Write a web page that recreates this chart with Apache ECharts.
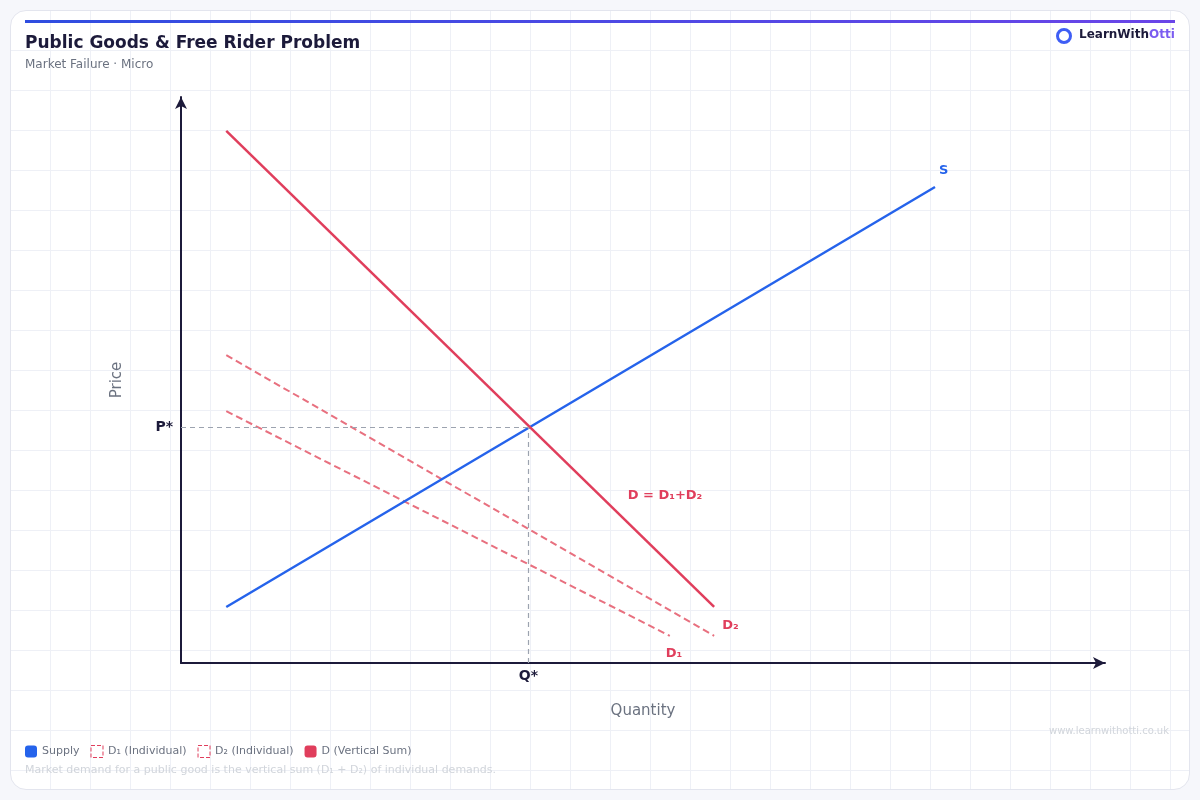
<!DOCTYPE html>
<html>
<head>
<meta charset="utf-8">
<script src="https://cdn.jsdelivr.net/npm/echarts@6/dist/echarts.min.js"></script>
<style>
  html, body { margin: 0; padding: 0; background: #f6f7fb; }
  #card {
    position: absolute; left: 10px; top: 10px; width: 1178px; height: 778px;
    border: 1px solid #e3e5ee; border-radius: 16px; background-color: #fff;
    background-image:
      linear-gradient(#eef0f6 1px, transparent 1px),
      linear-gradient(90deg, #eef0f6 1px, transparent 1px);
    background-size: 40px 40px; background-position: 39px 39px;
    overflow: hidden;
  }
  #chart { position: absolute; left: 0; top: 0; width: 1200px; height: 800px; }
</style>
</head>
<body>
<div id="card"></div>
<div id="chart"></div>
<script>
// economic units: quantity 0..10, price 0..10
const supply = [[0.49, 0.99], [8.16, 8.41]];
const demandSum = [[0.49, 9.40], [5.77, 0.99]];
const demand2 = [[0.49, 5.44], [5.77, 0.48]];
const demand1 = [[0.49, 4.45], [5.29, 0.48]];
const equilibrium = [3.76, 4.17];
const sumLabelAt = [4.78, 2.95];
const legendNames = ["Supply", "D\u2081 (Individual)", "D\u2082 (Individual)", "D (Vertical Sum)"];

const blue = "#2563eb", red = "#e03e5c", redLight = "#e8707f", ink = "#1c1a3a";
const font = "DejaVu Sans";

const chart = echarts.init(document.getElementById("chart"));
chart.setOption({
  animation: false,
  textStyle: { fontFamily: font },
  graphic: [
    { type: "rect", shape: { x: 25, y: 20, width: 1150, height: 3 },
      style: { fill: new echarts.graphic.LinearGradient(0, 0, 1, 0, [
        { offset: 0, color: "#2f4de0" }, { offset: 1, color: "#6a45e8" }]) } },
    { type: "text", left: 25, top: 35, style: { text: "Public Goods & Free Rider Problem",
      font: "bold 17px DejaVu Sans", fill: ink } },
    { type: "text", left: 25, top: 59, style: { text: "Market Failure \u00b7 Micro",
      font: "12px DejaVu Sans", fill: "#6b7280" } },
    { type: "circle", shape: { cx: 1064, cy: 36, r: 6.5 }, style: { fill: "#fff", stroke: "#3f5ef5", lineWidth: 3 } },
    { type: "text", left: 1079, top: 29, style: { rich: {
      a: { font: "bold 12px DejaVu Sans", fill: ink },
      b: { font: "bold 12px DejaVu Sans", fill: "#7b5cf0" } }, text: "{a|LearnWith}{b|Otti}" } },
    { type: "text", right: 31, top: 726, style: { text: "www.learnwithotti.co.uk",
      font: "10px DejaVu Sans", fill: "#d1d5db" } },
    { type: "text", left: 25, top: 765, style: {
      text: "Market demand for a public good is the vertical sum (D\u2081 + D\u2082) of individual demands.",
      font: "11px DejaVu Sans", fill: "#d1d5db" } }
  ],
  legend: {
    left: 20, top: 740, itemWidth: 12, itemHeight: 12, itemGap: 11,
    textStyle: { color: "#6b7280", fontSize: 11 },
    data: [
      { name: legendNames[0], icon: "roundRect", itemStyle: { color: blue } },
      { name: legendNames[1], icon: "rect", itemStyle: { color: "transparent", borderColor: red, borderType: "dashed", borderWidth: 1 } },
      { name: legendNames[2], icon: "rect", itemStyle: { color: "transparent", borderColor: red, borderType: "dashed", borderWidth: 1 } },
      { name: legendNames[3], icon: "roundRect", itemStyle: { color: red } }
    ]
  },
  grid: { left: 181, right: 95, top: 97, bottom: 137 },
  xAxis: {
    type: "value", min: 0, max: 10,
    name: "Quantity", nameLocation: "middle", nameGap: 41,
    nameTextStyle: { color: "#6b7280", fontSize: 15 },
    axisLine: { lineStyle: { color: ink, width: 2 }, symbol: ["none", "arrow"], symbolSize: [9, 12] },
    axisTick: { show: false }, axisLabel: { show: false }, splitLine: { show: false }
  },
  yAxis: {
    type: "value", min: 0, max: 10,
    name: "Price", nameLocation: "middle", nameGap: 56,
    nameTextStyle: { color: "#6b7280", fontSize: 15 },
    axisLine: { lineStyle: { color: ink, width: 2 }, symbol: ["none", "arrow"], symbolSize: [9, 12] },
    axisTick: { show: false }, axisLabel: { show: false }, splitLine: { show: false }
  },
  series: [
    { name: legendNames[1], type: "line", data: demand1, symbol: "none",
      lineStyle: { color: redLight, width: 2, type: [7, 4] }, itemStyle: { color: red },
      endLabel: { show: true, formatter: "D\u2081", color: red, fontWeight: "bold", fontSize: 13, offset: [-12, 18] } },
    { name: legendNames[2], type: "line", data: demand2, symbol: "none",
      lineStyle: { color: redLight, width: 2, type: [7, 4] }, itemStyle: { color: red },
      endLabel: { show: true, formatter: "D\u2082", color: red, fontWeight: "bold", fontSize: 13, offset: [0, -10] } },
    { name: legendNames[0], type: "line", data: supply, symbol: "none",
      lineStyle: { color: blue, width: 2.5 }, itemStyle: { color: blue },
      endLabel: { show: true, formatter: "S", color: blue, fontWeight: "bold", fontSize: 13, offset: [-4, -16] },
      markLine: {
        silent: true, symbol: "none",
        lineStyle: { color: "#9ca3af", type: [5, 4], width: 1.2 },
        label: { color: ink, fontWeight: "bold", fontSize: 14 },
        data: [
          [{ coord: [0, equilibrium[1]], label: { formatter: "P*", position: "start", distance: 8 } },
           { coord: equilibrium }],
          [{ coord: [equilibrium[0], 0], label: { formatter: "Q*", position: "start", distance: 6 } },
           { coord: equilibrium }]
        ]
      } },
    { name: legendNames[3], type: "line", data: demandSum, symbol: "none",
      lineStyle: { color: red, width: 2.5 }, itemStyle: { color: red },
      markPoint: { symbol: "circle", symbolSize: 0,
        label: { show: true, formatter: "D = D\u2081+D\u2082", color: red, fontWeight: "bold", fontSize: 13, position: "right" },
        data: [{ coord: sumLabelAt }] } }
  ]
});
</script>
</body>
</html>
